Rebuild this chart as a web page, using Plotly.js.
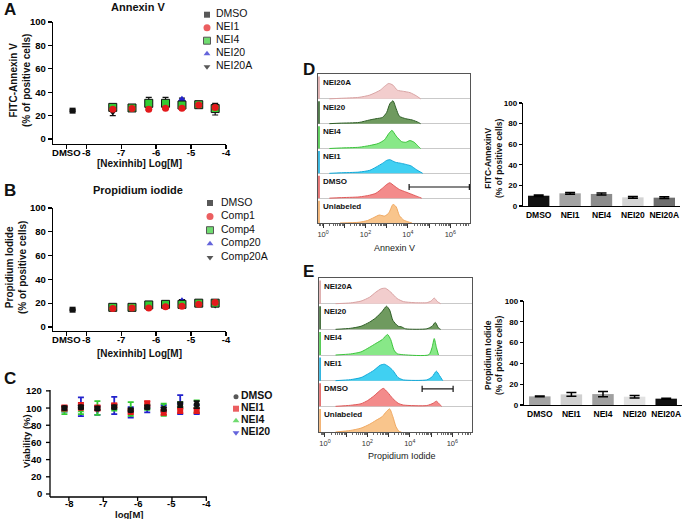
<!DOCTYPE html>
<html><head><meta charset="utf-8">
<script src="https://cdn.plot.ly/plotly-3.0.1.min.js"></script>
<style>html,body{margin:0;padding:0;background:#fff}#chart{width:683px;height:519px}</style>
</head><body><div id="chart"></div>
<script>
// ================= DATA =================
const concA = [-7.24, -6.69, -6.21, -5.73, -5.26, -4.78, -4.31];
const dmsoPos = [-8.39];
const tickValsAB = [-8.57, -8, -7, -6, -5, -4];
const tickTextAB = ['DMSO', '-8', '-7', '-6', '-5', '-4'];
const annexinDMSO = [24.2], annexinDMSOErr = [0.6];
const annexinNEI1 = [25.5, 26.0, 25.5, 26.3, 26.3, 29.0, 26.8];
const annexinNEI1Err = [1, 1, 1, 1, 1, 1, 1];
const annexinNEI4 = [27.0, 26.5, 30.5, 30.5, 29.0, 29.3, 26.0];
const annexinNEI4Err = [1.5, 1, 2.5, 2.5, 1.5, 1.5, 2];
const annexinNEI20 = [26.5, 26.0, 28.5, 29.5, 34.0, 27.7, 26.0];
const annexinNEI20Err = [1, 1, 1, 1, 1, 1, 1];
const annexinNEI20A = [23.0, 26.3, 32.0, 32.0, 28.0, 29.0, 25.5];
const annexinNEI20AErr = [3, 1, 3.5, 3.5, 1, 1, 5];
const legendNamesA = ['DMSO', 'NEI1', 'NEI4', 'NEI20', 'NEI20A'];
const piDMSO = [14.5], piDMSOErr = [0.5];
const piComp1 = [15.5, 16.0, 16.0, 17.0, 17.5, 19.0, 20.5];
const piComp4 = [16.5, 16.5, 18.5, 19.0, 19.0, 20.0, 20.0];
const piComp20 = [16.0, 16.0, 18.0, 19.0, 22.0, 18.5, 20.0];
const piComp20A = [16.5, 16.0, 18.0, 18.5, 18.5, 20.5, 18.5];
const piErr = [1, 1, 1, 1, 1, 1, 1];
const legendNamesB = ['DMSO', 'Comp1', 'Comp4', 'Comp20', 'Comp20A'];
const concC = [-8.13, -7.65, -7.17, -6.68, -6.2, -5.72, -5.24, -4.76, -4.28];
const tickValsC = [-8, -7, -6, -5, -4];
const tickTextC = ['-8', '-7', '-6', '-5', '-4'];
const tickValsViab = [0, 20, 40, 60, 80, 100, 120];
const viaDMSO = [100, 101, 99.5, 101, 97.5, 101, 99, 104, 104];
const viaDMSOErr = [2, 2, 2, 2, 2, 2, 2, 3, 4];
const viaNEI1 = [100, 102, 100, 103, 96, 105, 95, 97, 97];
const viaNEI1Err = [3, 4, 3, 2, 3, 3, 3, 3, 3];
const viaNEI4 = [97, 97, 100, 100, 99, 101, 98, 103, 102];
const viaNEI4Err = [4, 4, 8, 3, 8, 3, 7, 4, 7];
const viaNEI20 = [99, 101.5, 97, 103, 95, 99, 99.5, 104, 98];
const viaNEI20Err = [3, 11, 5, 10, 6, 4, 4, 11, 5];
const legendNamesC = ['DMSO', 'NEI1', 'NEI4', 'NEI20'];
const histRowNames = ['NEI20A', 'NEI20', 'NEI4', 'NEI1', 'DMSO', 'Unlabeled'];
const annexHistNEI20A = [[0.3,0],[0.8,0.02],[1.7,0.06],[2.2,0.15],[2.7,0.35],[2.9,0.5],[3.1,0.62],[3.3,0.55],[3.5,0.35],[3.8,0.3],[4.1,0.25],[4.4,0.12],[4.6,0]];
const annexHistNEI20 = [[0.3,0],[0.8,0.02],[1.7,0.05],[2.2,0.15],[2.5,0.2],[2.8,0.25],[3.0,0.45],[3.15,0.8],[3.3,0.92],[3.45,0.6],[3.6,0.3],[3.9,0.2],[4.2,0.15],[4.5,0.05],[4.6,0]];
const annexHistNEI4 = [[0.3,0],[0.8,0.02],[1.7,0.05],[2.2,0.12],[2.6,0.2],[2.9,0.35],[3.1,0.6],[3.25,0.73],[3.45,0.5],[3.7,0.28],[3.9,0.25],[4.1,0.32],[4.3,0.25],[4.5,0.08],[4.6,0]];
const annexHistNEI1 = [[0.3,0],[0.8,0.02],[1.7,0.05],[2.2,0.12],[2.5,0.25],[2.8,0.4],[3.0,0.52],[3.15,0.55],[3.4,0.45],[3.7,0.4],[3.95,0.35],[4.15,0.3],[4.4,0.15],[4.7,0]];
const annexHistDMSO = [[0.3,0],[0.8,0.02],[1.7,0.05],[2.2,0.12],[2.5,0.2],[2.8,0.4],[3.0,0.55],[3.15,0.62],[3.35,0.5],[3.6,0.35],[3.9,0.25],[4.2,0.15],[4.5,0.05],[4.65,0]];
const annexHistUnlab = [[0.8,0],[1.7,0.03],[2.1,0.1],[2.4,0.22],[2.65,0.32],[2.9,0.28],[3.1,0.4],[3.3,0.75],[3.45,0.65],[3.6,0.3],[3.8,0.12],[4.0,0.05],[4.2,0]];
const annexSpikes = [0.9, 0.9, 0.9, 0.9, 0.9, 0.9];
const annexGateX = [4.06, 6.9], annexGateLevel = 0.45, annexGateCap = 0.12;
const piHistNEI20A = [[0.5,0],[1.2,0.03],[1.7,0.1],[2.1,0.25],[2.4,0.45],[2.65,0.58],[2.85,0.6],[3.1,0.45],[3.4,0.2],[3.7,0.08],[4.2,0.04],[4.8,0.04],[5.0,0.1],[5.15,0.22],[5.3,0.08],[5.45,0]];
const piHistNEI20 = [[0.5,0],[1.2,0.04],[1.7,0.12],[2.1,0.28],[2.4,0.45],[2.7,0.7],[2.9,0.9],[3.05,0.75],[3.2,0.35],[3.45,0.12],[3.6,0.1],[3.8,0.02],[4.8,0.02],[5.05,0.12],[5.2,0.27],[5.35,0.05],[5.45,0]];
const piHistNEI4 = [[0.5,0],[1.2,0.04],[1.7,0.12],[2.1,0.3],[2.4,0.45],[2.7,0.6],[2.95,0.8],[3.1,0.6],[3.25,0.2],[3.4,0.05],[3.7,0.01],[4.9,0.01],[5.05,0.3],[5.15,0.64],[5.25,0.3],[5.35,0]];
const piHistNEI1 = [[0.5,0],[1.2,0.04],[1.7,0.12],[2.0,0.25],[2.3,0.4],[2.6,0.6],[2.8,0.64],[3.0,0.55],[3.2,0.4],[3.45,0.12],[3.7,0.03],[4.8,0.03],[5.05,0.15],[5.25,0.37],[5.4,0.2],[5.55,0]];
const piHistDMSO = [[0.5,0],[1.2,0.04],[1.7,0.1],[2.0,0.22],[2.3,0.4],[2.6,0.62],[2.75,0.7],[2.95,0.55],[3.2,0.3],[3.45,0.12],[3.7,0.05],[4.8,0.03],[5.1,0.12],[5.25,0.2],[5.4,0.08],[5.5,0]];
const piHistUnlab = [[0.5,0],[1.2,0.06],[1.7,0.15],[2.1,0.3],[2.4,0.45],[2.7,0.6],[2.9,0.8],[3.05,0.9],[3.2,0.6],[3.35,0.2],[3.5,0.02],[3.6,0]];
const piSpikes = [0.9, 0.9, 0.9, 0.9, 0.9, 0.9];
const piGateX = [4.58, 6.04], piGateLevel = 0.68, piGateCap = 0.12;
const histTickVals = [0, 1, 2, 3, 4, 5, 6];
const histTickText = ['10<sup>0</sup>', ' ', '10<sup>2</sup>', ' ', '10<sup>4</sup>', ' ', '10<sup>6</sup>'];
const barCats = ['DMSO', 'NEI1', 'NEI4', 'NEI20', 'NEI20A'];
const annexBarVals = [10.0, 12.3, 11.7, 8.4, 8.1];
const annexBarErr = [0.7, 0.9, 0.9, 0.8, 0.8];
const piBarVals = [8.3, 10.2, 10.5, 8.0, 6.1];
const piBarErr = [0.4, 1.8, 2.5, 1.2, 0.5];

// ================= STYLE / LAYOUT =================
const W = 683, H = 519;
const FONT = '"Liberation Sans", Arial, Helvetica, sans-serif';
const dx = (a, b) => [a / W, b / W];
const dy = (bottom, top) => [1 - bottom / H, 1 - top / H];
const PX = v => v / W, PY = v => 1 - v / H;
function prismAxis(extra) {
  return Object.assign({
    showline: true, linecolor: '#000', linewidth: 1.3, ticks: 'outside', ticklen: 4,
    tickwidth: 1.3, tickcolor: '#000', showgrid: false, zeroline: false, fixedrange: true,
    tickmode: 'array', tickangle: 0,
    tickfont: { family: FONT, size: 9.5, color: '#000', weight: 'bold' }
  }, extra);
}
const traces = [];
const shapes = [];
const annotations = [];
const BLACK = '#111', RED = '#e31a1c', GREEN = '#33cc33', BLUE = '#2222cc';
function addDoseSeries(xa, ya, list) {
  list.forEach(s => {
    traces.push({
      type: 'scatter', mode: 'markers', x: s.x, y: s.y, xaxis: xa, yaxis: ya, showlegend: false,
      error_y: { type: 'data', array: s.e, visible: true, color: '#111', thickness: 1.2, width: 3 },
      marker: { symbol: s.sym, color: s.color, size: s.size, line: { color: '#111', width: s.lw } }
    });
  });
}
addDoseSeries('x', 'y', [
  { x: concA, y: annexinNEI20A, e: annexinNEI20AErr, sym: 'triangle-down', color: BLACK, size: 7, lw: 0 },
  { x: concA, y: annexinNEI20, e: annexinNEI20Err, sym: 'triangle-up', color: BLUE, size: 7, lw: 0 },
  { x: concA, y: annexinNEI4, e: annexinNEI4Err, sym: 'square', color: GREEN, size: 8, lw: 1 },
  { x: concA, y: annexinNEI1, e: annexinNEI1Err, sym: 'circle', color: RED, size: 7, lw: 0 },
  { x: dmsoPos, y: annexinDMSO, e: annexinDMSOErr, sym: 'square', color: BLACK, size: 6, lw: 0 }
]);
addDoseSeries('x2', 'y2', [
  { x: concA, y: piComp20A, e: piErr, sym: 'triangle-down', color: BLACK, size: 7, lw: 0 },
  { x: concA, y: piComp20, e: piErr, sym: 'triangle-up', color: BLUE, size: 7, lw: 0 },
  { x: concA, y: piComp4, e: piErr, sym: 'square', color: GREEN, size: 8, lw: 1 },
  { x: concA, y: piComp1, e: piErr, sym: 'circle', color: RED, size: 7, lw: 0 },
  { x: dmsoPos, y: piDMSO, e: piDMSOErr, sym: 'square', color: BLACK, size: 6, lw: 0 }
]);
[
  { y: viaNEI20, e: viaNEI20Err, sym: 'triangle-down', color: BLUE },
  { y: viaNEI4, e: viaNEI4Err, sym: 'triangle-up', color: GREEN },
  { y: viaNEI1, e: viaNEI1Err, sym: 'square', color: RED },
  { y: viaDMSO, e: viaDMSOErr, sym: 'circle', color: BLACK }
].forEach(s => {
  traces.push({
    type: 'scatter', mode: 'markers', x: concC, y: s.y, xaxis: 'x3', yaxis: 'y3', showlegend: false,
    error_y: { type: 'data', array: s.e, visible: true, color: s.color, thickness: 1.8, width: 3 },
    marker: { symbol: s.sym, color: s.color, size: 6 }
  });
});
function addLegend(xa, ya, names, syms, colors, sizes, lws, mx, tx, bold) {
  const idx = names.map((_, i) => i);
  traces.push({
    type: 'scatter', mode: 'markers', x: names.map(() => mx), y: idx, xaxis: xa, yaxis: ya, showlegend: false,
    marker: { symbol: syms, color: colors, size: sizes, line: { color: '#111', width: lws } }, cliponaxis: false
  });
  traces.push({
    type: 'scatter', mode: 'text', x: names.map(() => tx), y: idx, xaxis: xa, yaxis: ya, showlegend: false,
    text: names, textposition: 'middle right', cliponaxis: false,
    textfont: { family: FONT, size: 10.5, color: '#111', weight: bold ? 'bold' : 'normal' }
  });
}
const symsAB = ['square', 'circle', 'square', 'triangle-up', 'triangle-down'];
const colsAB = [BLACK, RED, GREEN, BLUE, BLACK];
addLegend('x8', 'y8', legendNamesA, symsAB, colsAB, [6, 7, 7, 6, 6], [0, 0, 1, 0, 0], 7, 16, false);
addLegend('x9', 'y9', legendNamesB, symsAB, colsAB, [6, 7, 7, 6, 6], [0, 0, 1, 0, 0], 10, 21, false);
addLegend('x11', 'y11', legendNamesC, ['circle', 'square', 'triangle-up', 'triangle-down'],
  [BLACK, RED, GREEN, BLUE], [5, 6, 6, 6], [0, 0, 0, 0], 8, 13, true);
const histFill = ['#f2cdcd', '#6f9a5f', '#88e888', '#40d0f2', '#f38b8b', '#f9c58c'];
const histLine = ['#d9a3a3', '#2e5e26', '#3cc43c', '#12a9d9', '#e05a5a', '#f0a860'];
function addHist(xa, ya, hists, spikes, spikeX, gateX, gateLevel, gateCap) {
  const n = hists.length;
  hists.forEach((pts, i) => {
    const base = n - 1 - i;
    traces.push({
      type: 'scatter', mode: 'lines', x: pts.map(p => p[0]), y: pts.map(p => base + p[1]),
      xaxis: xa, yaxis: ya, showlegend: false, fill: 'toself', fillcolor: histFill[i],
      line: { color: histLine[i], width: 1, shape: 'spline', smoothing: 0.6 }
    });
    traces.push({
      type: 'scatter', mode: 'lines', x: [spikeX, spikeX], y: [base, base + spikes[i]],
      xaxis: xa, yaxis: ya, showlegend: false, line: { color: histLine[i], width: 1.6 }
    });
    annotations.push({
      xref: xa + ' domain', yref: ya, x: 0.02, y: base + 0.93, xanchor: 'left', yanchor: 'top',
      text: histRowNames[i], showarrow: false, font: { family: FONT, size: 8, color: '#111', weight: 'bold' }
    });
  });
  const dmsoBase = n - 1 - histRowNames.indexOf('DMSO');
  traces.push({
    type: 'scatter', mode: 'lines', x: gateX, y: gateX.map(() => dmsoBase + gateLevel),
    xaxis: xa, yaxis: ya, showlegend: false, line: { color: '#111', width: 1.2 },
    error_y: { type: 'data', array: gateX.map(() => gateCap), visible: true, color: '#111', thickness: 1.2, width: 0 }
  });
}
addHist('x4', 'y4', [annexHistNEI20A, annexHistNEI20, annexHistNEI4, annexHistNEI1, annexHistDMSO, annexHistUnlab],
  annexSpikes, -0.19, annexGateX, annexGateLevel, annexGateCap);
addHist('x6', 'y6', [piHistNEI20A, piHistNEI20, piHistNEI4, piHistNEI1, piHistDMSO, piHistUnlab],
  piSpikes, -0.23, piGateX, piGateLevel, piGateCap);
const barColD = ['#111111', '#a3a3a3', '#8c8c8c', '#d4d4d4', '#6e6e6e'];
const barColE = ['#a3a3a3', '#d0d0d0', '#a0a0a0', '#e2e2e2', '#111111'];
traces.push({
  type: 'bar', x: barCats, y: annexBarVals, xaxis: 'x5', yaxis: 'y5', showlegend: false, width: 0.68,
  marker: { color: barColD, line: { width: 0 } },
  error_y: { type: 'data', array: annexBarErr, visible: true, color: '#000', thickness: 1.5, width: 5 }
});
traces.push({
  type: 'bar', x: barCats, y: piBarVals, xaxis: 'x7', yaxis: 'y7', showlegend: false, width: 0.68,
  marker: { color: barColE, line: { width: 0 } },
  error_y: { type: 'data', array: piBarErr, visible: true, color: '#000', thickness: 1.5, width: 5 }
});
const minorVals = [];
for (let d = -1; d < 7; d++) for (let k = 2; k <= 9; k++) { const v = d + Math.log10(k); if (v > -0.2 && v < 6.9) minorVals.push(v); }
function histX(domain, range) {
  return {
    domain, range, showline: true, mirror: true, linecolor: '#555', linewidth: 1, showgrid: false, zeroline: false,
    ticks: 'outside', ticklen: 4, tickwidth: 1, tickcolor: '#333', tickmode: 'array', tickangle: 0,
    tickvals: histTickVals, ticktext: histTickText, fixedrange: true,
    tickfont: { family: FONT, size: 7.5, color: '#333' },
    minor: { tickmode: 'array', tickvals: minorVals, ticks: 'outside', ticklen: 2, tickwidth: 0.8, tickcolor: '#444', showgrid: false }
  };
}
function histY(domain) {
  return {
    domain, range: [0, 6], showline: true, mirror: true, linecolor: '#555', linewidth: 1,
    tickmode: 'array', tickvals: [1, 2, 3, 4, 5], showgrid: true, gridcolor: '#c9c9c9', gridwidth: 1,
    showticklabels: false, ticks: '', zeroline: false, fixedrange: true
  };
}
function barX(domain, anchor) {
  return prismAxis({ domain, anchor, range: [-0.5, 4.5], type: 'category', ticks: '', tickmode: 'auto',
    tickfont: { family: FONT, size: 8.5, color: '#000', weight: 'bold' } });
}
function barY(domain, anchor) {
  return prismAxis({ domain, anchor, range: [0, 100], tickvals: [0, 20, 40, 60, 80, 100], ticklen: 3,
    tickfont: { family: FONT, size: 8, color: '#000', weight: 'bold' } });
}
const hidden = (domain, range) => ({ domain, range, visible: false, fixedrange: true });

// Panel C axes: drawn as layout shapes + annotations (axis decoration), scaled by the C axes
const C_LEFT = 50, C_RIGHT = 207, C_TOP = 390, C_BOTTOM = 497;
const C_XRANGE = [-8.55, -3.98], C_YRANGE = [-3.5, 121];
const cLine = { color: '#000', width: 1.3 };
shapes.push({ type: 'line', layer: 'above', xref: 'paper', yref: 'paper', x0: PX(C_LEFT), x1: PX(C_LEFT), y0: PY(C_BOTTOM), y1: PY(C_TOP), line: cLine });
shapes.push({ type: 'line', layer: 'above', xref: 'paper', yref: 'paper', x0: PX(C_LEFT), x1: PX(C_RIGHT), y0: PY(C_BOTTOM), y1: PY(C_BOTTOM), line: cLine });
tickValsViab.forEach(v => {
  shapes.push({ type: 'line', layer: 'above', xref: 'paper', yref: 'y3', x0: PX(C_LEFT - 4), x1: PX(C_LEFT), y0: v, y1: v, line: cLine });
  annotations.push({ xref: 'paper', yref: 'y3', x: PX(C_LEFT - 6), y: v, xanchor: 'right', yanchor: 'middle',
    text: String(v), showarrow: false, font: { family: FONT, size: 9.5, color: '#000', weight: 'bold' } });
});
tickValsC.forEach((v, i) => {
  shapes.push({ type: 'line', layer: 'above', xref: 'x3', yref: 'paper', x0: v, x1: v, y0: PY(C_BOTTOM), y1: PY(C_BOTTOM + 4), line: cLine });
  annotations.push({ xref: 'x3', yref: 'paper', x: v, y: PY(503), xanchor: 'center', yanchor: 'middle',
    text: tickTextC[i], showarrow: false, font: { family: FONT, size: 9.5, color: '#000', weight: 'bold' } });
});

const layout = {
  width: W, height: H, margin: { l: 0, r: 0, t: 0, b: 0 }, paper_bgcolor: '#fff', plot_bgcolor: 'rgba(0,0,0,0)',
  showlegend: false, font: { family: FONT },
  xaxis: prismAxis({ domain: dx(53, 226), range: [-8.95, -4], tickvals: tickValsAB, ticktext: tickTextAB, anchor: 'y', ticklabelstandoff: -5 }),
  yaxis: prismAxis({ domain: dy(144, 22), range: [-4.3, 100], tickvals: [0, 20, 40, 60, 80, 100], anchor: 'x' }),
  xaxis2: prismAxis({ domain: dx(53, 226), range: [-8.95, -4], tickvals: tickValsAB, ticktext: tickTextAB, anchor: 'y2', ticklabelstandoff: -5 }),
  yaxis2: prismAxis({ domain: dy(331, 208), range: [-3.4, 100], tickvals: [0, 20, 40, 60, 80, 100], anchor: 'x2' }),
  xaxis3: { domain: dx(C_LEFT, C_RIGHT), range: C_XRANGE, anchor: 'y3', showline: false, ticks: '', showticklabels: false, showgrid: false, zeroline: false, fixedrange: true },
  yaxis3: { domain: dy(C_BOTTOM, C_TOP), range: C_YRANGE, anchor: 'x3', showline: false, ticks: '', showticklabels: false, showgrid: false, zeroline: false, fixedrange: true },
  xaxis4: Object.assign(histX(dx(318, 470), [-0.236, 6.93]), { anchor: 'y4' }),
  yaxis4: Object.assign(histY(dy(223, 74)), { anchor: 'x4' }),
  xaxis5: barX(dx(523, 680), 'y5'),
  yaxis5: barY(dy(206, 103), 'x5'),
  xaxis6: Object.assign(histX(dx(319, 472), [-0.28, 6.93]), { anchor: 'y6' }),
  yaxis6: Object.assign(histY(dy(432, 278)), { anchor: 'x6' }),
  xaxis7: barX(dx(524, 682), 'y7'),
  yaxis7: barY(dy(405, 301), 'x7'),
  xaxis8: Object.assign(hidden(dx(200, 280), [0, 80]), { anchor: 'y8' }),
  yaxis8: Object.assign(hidden(dy(73.2, 8.2), [4.5, -0.5]), { anchor: 'x8' }),
  xaxis9: Object.assign(hidden(dx(200, 290), [0, 90]), { anchor: 'y9' }),
  yaxis9: Object.assign(hidden(dy(264.2, 196.2), [4.5, -0.5]), { anchor: 'x9' }),
  xaxis11: Object.assign(hidden(dx(228, 300), [0, 72]), { anchor: 'y11' }),
  yaxis11: Object.assign(hidden(dy(438.7, 390.7), [3.5, -0.5]), { anchor: 'x11' }),
  shapes: shapes,
  annotations: annotations
};
function ann(text, x, y, size, opts) {
  annotations.push(Object.assign({
    xref: 'paper', yref: 'paper', x: PX(x), y: PY(y), text, showarrow: false,
    xanchor: 'center', yanchor: 'middle',
    font: { family: FONT, size, color: '#111', weight: 'bold' }
  }, opts || {}));
}
ann('A', 2, 9, 17, { xanchor: 'left' });
ann('B', 2, 190, 17, { xanchor: 'left' });
ann('C', 2, 378, 17, { xanchor: 'left' });
ann('D', 301, 69, 17, { xanchor: 'left' });
ann('E', 301, 271, 17, { xanchor: 'left' });
ann('Annexin V', 138, 7, 11);
ann('Propidium iodide', 138, 190, 11);
ann('FITC-Annexin V<br>(% of positive cells)', 20, 81, 10, { textangle: -90 });
ann('[Nexinhib] Log[M]', 139, 163, 10);
ann('Propidium Iodide<br>(% of positive cells)', 16, 268, 10, { textangle: -90 });
ann('[Nexinhib] Log[M]', 139, 353, 10);
ann('Viability (%)', 26, 441, 9.5, { textangle: -90 });
ann('log[M]', 129, 514, 9.5);
ann('Annexin V', 394, 248, 9, { font: { family: FONT, size: 9, color: '#222' } });
ann('Propidium Iodide', 402, 456, 9, { font: { family: FONT, size: 9, color: '#222' } });
ann('FITC-AnnexinV<br>(% of positive cells)', 493, 158, 8.5, { textangle: -90 });
ann('Propidium Iodide<br>(% of positive cells)', 493, 355, 8.5, { textangle: -90 });
Plotly.newPlot('chart', traces, layout, { staticPlot: true, displayModeBar: false });
</script>
</body></html>
